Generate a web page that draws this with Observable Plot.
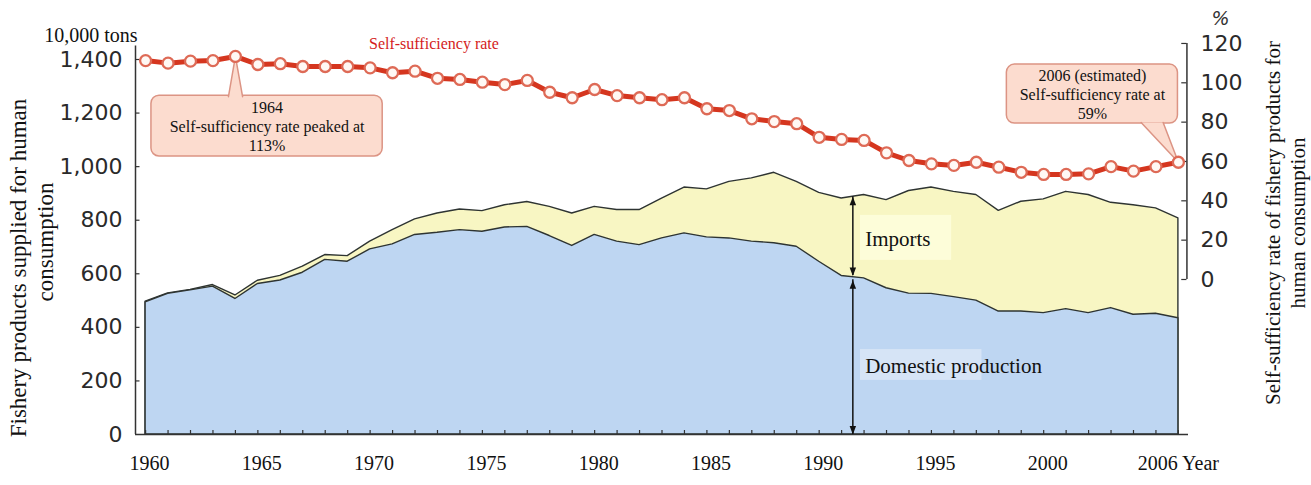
<!DOCTYPE html>
<html><head><meta charset="utf-8">
<script src="https://cdn.jsdelivr.net/npm/d3@7"></script>
<script src="https://cdn.jsdelivr.net/npm/@observablehq/plot@0.6"></script>
<style>
html,body{margin:0;padding:0;background:#fff;}
#chart svg{display:block;}
</style>
</head><body><div id="chart"></div>
<script>
// ---------- data ----------
const years = d3.range(1960, 2007);
const total = [496, 527, 540, 558, 519, 574, 592, 627, 670, 666,
               720, 763, 803, 825, 840, 834, 856, 868, 850, 825,
               850, 838, 838, 881, 922, 915, 943, 956, 977, 943,
               902, 881, 894, 875, 909, 922, 906, 894, 835, 869,
               878, 906, 894, 865, 856, 844, 807];
const domestic = [493, 525, 538, 552, 506, 562, 575, 604, 652, 645,
                  691, 710, 745, 753, 763, 757, 773, 775, 741, 704,
                  745, 720, 707, 732, 751, 736, 732, 720, 714, 701,
                  645, 592, 583, 546, 526, 525, 513, 500, 459, 459,
                  453, 468, 453, 472, 447, 451, 434];
const rate = [111.3, 110.0, 111.0, 111.3, 113.4, 109.3, 109.7, 108.3, 108.3, 108.3,
              107.6, 105.1, 105.9, 102.3, 101.7, 100.3, 99.1, 101.2, 95.2, 92.4,
              96.6, 93.5, 92.4, 91.4, 92.4, 86.8, 85.9, 81.7, 80.3, 79.2,
              72.3, 71.2, 70.7, 64.4, 60.5, 58.8, 58.0, 59.6, 57.1, 54.5,
              53.4, 53.4, 53.7, 57.4, 55.1, 57.4, 59.6];
const leftTicks = [0, 200, 400, 600, 800, 1000, 1200, 1400];
const rightTicks = [0, 20, 40, 60, 80, 100, 120];
const xLabelYears = [1960, 1965, 1970, 1975, 1980, 1985, 1990, 1995, 2000];
const lastYear = 2006;

// right (%) axis is drawn on the left scale through a linear mapping
const RATE0 = 578.7, RATEK = 7.343;
const r2y = p => RATE0 + p * RATEK;
const y2r = v => Math.round((v - RATE0) / RATEK);

const rows = years.map((year, i) => ({year, total: total[i], domestic: domestic[i], rate: r2y(rate[i])}));

const X0 = 1959.55, X1 = 2006.45;
const serif = "Liberation Serif, Times New Roman, serif";
const sans = "DejaVu Sans, sans-serif";
const ink = "#2e3432";

// arrow position between the two areas
const arrowYear = 1991.5;
const iA = years.indexOf(1991);
const arrowTot = (total[iA] + total[iA + 1]) / 2;
const arrowDom = (domestic[iA] + domestic[iA + 1]) / 2;

// annotation layout (data units)
const box1 = {x1: 1960.26, x2: 1970.56, y1: 1038, y2: 1265};
const ptr1 = [{x: 1963.69, y: 1261}, {x: 1964, y: r2y(rate[4])}, {x: 1964.32, y: 1261}];
const box2 = {x1: 1998.36, x2: 2005.98, y1: 1161, y2: 1381};
const ptr2 = [{x: 2004.34, y: 1165}, {x: 2006, y: r2y(rate[46])}, {x: 2005.32, y: 1165}];
const impBox = {x1: 1991.84, x2: 1995.9, y1: 650, y2: 818};
const domBox = {x1: 1991.84, x2: 1997.25, y1: 202, y2: 317};

const upHead = {draw(c, s) { const h = Math.sqrt(s) * 1.5, w = h * 0.38; c.moveTo(0, 0); c.lineTo(-w, h); c.lineTo(w, h); c.closePath(); }};
const downHead = {draw(c, s) { const h = Math.sqrt(s) * 1.5, w = h * 0.38; c.moveTo(0, 0); c.lineTo(-w, -h); c.lineTo(w, -h); c.closePath(); }};

const chart = Plot.plot({
  width: 1311,
  height: 485,
  marginLeft: 135,
  marginRight: 123,
  marginTop: 59,
  marginBottom: 51,
  x: {domain: [X0, X1]},
  y: {domain: [0, 1400]},
  style: {fontFamily: serif, background: "white", overflow: "visible"},
  marks: [
    // stacked areas
    Plot.areaY(rows, {x: "year", y: "total", fill: "#f8f6c3", stroke: ink, strokeWidth: 1.4}),
    Plot.areaY(rows, {x: "year", y: "domestic", fill: "#bed6f2", stroke: ink, strokeWidth: 1.4}),

    // axis lines
    Plot.ruleX([X0], {y1: 0, y2: 1450, stroke: "#333", strokeWidth: 1.5}),
    Plot.ruleY([0], {x1: X0, x2: X1, stroke: "#333", strokeWidth: 1.5}),
    Plot.ruleX([X1 - 0.07], {y1: r2y(0), y2: r2y(120), stroke: "#333", strokeWidth: 1.5}),
    // ticks pointing inward
    Plot.ruleY(leftTicks.slice(1), {x1: X0, x2: X0 + 0.2, stroke: "#333", strokeWidth: 1.2}),
    Plot.ruleX(years, {y1: 0, y2: 15, stroke: "#333", strokeWidth: 1.2}),
    Plot.ruleY(rightTicks.map(r2y), {x1: X1 - 0.3, x2: X1 - 0.07, stroke: "#333", strokeWidth: 1.2}),

    // tick labels
    Plot.axisY(leftTicks, {anchor: "left", tickSize: 0, tickPadding: 13, tickFormat: d3.format(","),
      fontSize: 22, fontFamily: sans, fill: "#2a2a2a", label: null}),
    Plot.axisY(rightTicks.map(r2y), {anchor: "right", tickSize: 0, tickPadding: 12, tickFormat: y2r,
      fontSize: 22, fontFamily: sans, fill: "#2a2a2a", label: null}),
    Plot.axisX(xLabelYears, {anchor: "bottom", tickSize: 0, tickPadding: 21, tickFormat: d => String(d),
      fontSize: 20, fontFamily: serif, fill: "#111", dx: 4, label: null}),
    Plot.axisX([lastYear], {anchor: "bottom", tickSize: 0, tickPadding: 21, tickFormat: d => d + " Year",
      fontSize: 20, fontFamily: serif, fill: "#111", label: null}),

    // label boxes
    Plot.rect([impBox], {x1: "x1", x2: "x2", y1: "y1", y2: "y2", fill: "#fdfdd9"}),
    Plot.rect([domBox], {x1: "x1", x2: "x2", y1: "y1", y2: "y2", fill: "#d6e4f6"}),
    Plot.text(["Imports"], {x: 1992.05, y: 728, textAnchor: "start", fontSize: 21, fill: "#111"}),
    Plot.text(["Domestic production"], {x: 1992.05, y: 254, textAnchor: "start", fontSize: 21, fill: "#111"}),

    // arrows
    Plot.ruleX([arrowYear], {y1: arrowDom + 6, y2: arrowTot, stroke: "#111", strokeWidth: 1.5}),
    Plot.ruleX([arrowYear], {y1: 0, y2: arrowDom - 10, stroke: "#111", strokeWidth: 1.5}),
    Plot.dot([{x: arrowYear, y: arrowTot}], {x: "x", y: "y", symbol: upHead, r: 3.2, fill: "#111", stroke: null}),
    Plot.dot([{x: arrowYear, y: arrowDom + 4}], {x: "x", y: "y", symbol: downHead, r: 3.2, fill: "#111", stroke: null}),
    Plot.dot([{x: arrowYear, y: arrowDom - 12}], {x: "x", y: "y", symbol: upHead, r: 3.2, fill: "#111", stroke: null}),
    Plot.dot([{x: arrowYear, y: 0}], {x: "x", y: "y", symbol: downHead, r: 3.2, fill: "#111", stroke: null}),

    // self-sufficiency line
    Plot.line(rows, {x: "year", y: "rate", stroke: "#d5361f", strokeWidth: 5}),
    Plot.text(["Self-sufficiency rate"], {x: 1969.95, y: 1458, textAnchor: "start", fontSize: 16, fill: "#d41c1c"}),

    // callouts
    Plot.rect([box1], {x1: "x1", x2: "x2", y1: "y1", y2: "y2", fill: "#fcdccf", stroke: "#dc9484", strokeWidth: 1.5, rx: 8}),
    Plot.line(ptr1, {x: "x", y: "y", fill: "#fcdccf", stroke: "#dc9484", strokeWidth: 1.5}),
    Plot.text(["1964\nSelf-sufficiency rate peaked at\n113%"], {x: (box1.x1 + box1.x2) / 2, y: (box1.y1 + box1.y2) / 2,
      fontSize: 16, lineHeight: 1.2, fill: "#111"}),
    Plot.rect([box2], {x1: "x1", x2: "x2", y1: "y1", y2: "y2", fill: "#fcdccf", stroke: "#dc9484", strokeWidth: 1.5, rx: 8}),
    Plot.line(ptr2, {x: "x", y: "y", fill: "#fcdccf", stroke: "#dc9484", strokeWidth: 1.5}),
    Plot.text(["2006 (estimated)\nSelf-sufficiency rate at\n59%"], {x: (box2.x1 + box2.x2) / 2, y: (box2.y1 + box2.y2) / 2,
      fontSize: 16, lineHeight: 1.2, fill: "#111"}),

    Plot.dot(rows, {x: "year", y: "rate", r: 5.5, fill: "#fff8f4", stroke: "#de6a56", strokeWidth: 2.3}),

    // units and titles
    Plot.text(["10,000 tons"], {frameAnchor: "top-left", textAnchor: "end", dx: 2, dy: -32, fontSize: 20, fill: "#111"}),
    Plot.text(["%"], {frameAnchor: "top-right", textAnchor: "middle", dx: 32, dy: -48, fontSize: 19, fontFamily: sans, fontStyle: "italic", fill: "#333"}),
    Plot.text(["Fishery products supplied for human"], {frameAnchor: "left", textAnchor: "middle", rotate: -90, dx: -117, dy: 21, fontSize: 23, fill: "#111"}),
    Plot.text(["consumption"], {frameAnchor: "left", textAnchor: "middle", rotate: -90, dx: -90, dy: -5, fontSize: 23, fill: "#111"}),
    Plot.text(["Self-sufficiency rate of fishery products for\nhuman consumption"], {frameAnchor: "right", textAnchor: "middle", rotate: -90,
      dx: 96, dy: -24, fontSize: 21, lineHeight: 1.2, fill: "#111"})
  ]
});
document.getElementById("chart").appendChild(chart);
</script>
</body></html>
